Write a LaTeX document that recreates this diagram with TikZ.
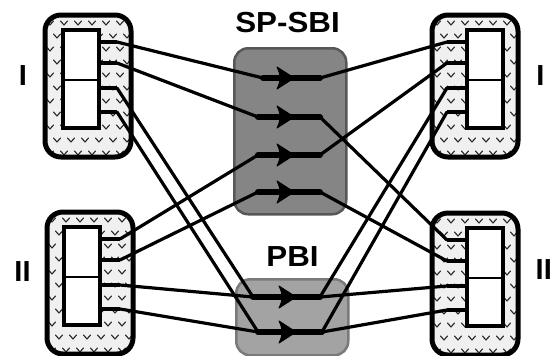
\documentclass[tikz,border=0pt]{standalone}
\usepackage{fontspec}
\setmainfont{Liberation Sans}
\usepackage{graphicx}

\tikzset{
  conn/.style={line width=3.2pt, line cap=round, line join=round},
  seg/.style={line width=6pt, line cap=round},
  headfill/.style={fill=black, draw=black, line width=1pt, line join=round},
  vmark/.style={line width=1.1pt, black!85, line cap=round, line join=round},
  label/.style={font=\fontsize{29}{29}\selectfont\bfseries, inner sep=0pt},
  sbibox/.style={fill=black!48, draw=black!66, line width=2.5pt, rounded corners=14pt},
  pbibox/.style={fill=black!36, draw=black!52, line width=2.5pt, rounded corners=14pt},
}

% #1,#2 outer top-left corner; #3 inner frame left x; #4 stub root x; #5 stub tip x; #6 name prefix
\newcommand\drawunit[6]{%
  \begin{scope}
    \clip[rounded corners=16pt] (#1,#2) rectangle ++(86,142);
    \fill[black!6] (#1,#2) rectangle ++(86,142);
    \foreach \i in {0,...,6} {
      \foreach \j in {0,...,10} {
        \draw[vmark] ({#1+5+\i*14+mod(\j,2)*7},{#2+8+\j*13}) ++(-3.5,-2) -- ++(3.5,4) -- ++(3.5,-4);
      }
    }
  \end{scope}
  \draw[line width=5pt, rounded corners=16pt] (#1,#2) rectangle ++(86,142);
  \fill[white] (#3,#2+15) rectangle ++(36,98);
  \draw[line width=4pt] (#3,#2+15) rectangle ++(36,98);
  \draw[line width=2.5pt] (#3,#2+65) -- ++(36,0);
  \foreach \k/\dy in {1/27,2/48,3/73,4/97} {
    \coordinate (#6\k) at (#5,#2+\dy);
    \draw[line width=4pt] (#4,#2+\dy) -- (#6\k);
  }
}

% arrowhead with concave back, tip at the given coordinate
\newcommand\flowhead[1]{%
  \filldraw[headfill] (#1) -- ++(-17,-11) .. controls ++(2,4) and ++(0,-4) .. ++(3,11)
    .. controls ++(0,4) and ++(2,-4) .. ++(-3,11) -- cycle;
}

\begin{document}
\begin{tikzpicture}[x=1pt, y=-1pt]
  \useasboundingbox (0,0) rectangle (550,356);
  \clip (0,0) rectangle (550,356);

  % interface blocks
  \node[sbibox, minimum width=112pt, minimum height=166pt, anchor=north west] (sbi) at (233,47) {};
  \node[pbibox, minimum width=112pt, minimum height=76pt, anchor=north west] (pbi) at (235,278) {};

  % the four units
  \drawunit{45}{15}{63}{99}{117}{lt}
  \drawunit{47}{212}{64}{100}{120}{lb}
  \drawunit{432}{15}{467}{467}{447}{rt}
  \drawunit{432}{213}{467}{467}{447}{rb}

  % channel points inside the blocks
  \coordinate (r1a) at (263,78);  \coordinate (r1m) at (294,78);  \coordinate (r1b) at (320,78);
  \coordinate (r2a) at (258,117); \coordinate (r2m) at (294,117); \coordinate (r2b) at (320,117);
  \coordinate (r3a) at (258,155); \coordinate (r3m) at (294,155); \coordinate (r3b) at (320,155);
  \coordinate (r4a) at (258,192); \coordinate (r4m) at (294,192); \coordinate (r4b) at (320,192);
  \coordinate (r5a) at (253,297); \coordinate (r5m) at (296,297); \coordinate (r5b) at (320,297);
  \coordinate (r6a) at (258,332); \coordinate (r6m) at (296,332); \coordinate (r6b) at (322,332);

  % connectors
  \draw[conn] (lt1) -- (r1a);  \draw[conn] (r1b) -- (rt1);
  \draw[conn] (lt2) -- (r2a);  \draw[conn] (r2b) -- (rb1);
  \draw[conn] (lb1) -- (r3a);  \draw[conn] (r3b) -- (rt2);
  \draw[conn] (lb2) -- (r4a);  \draw[conn] (r4b) -- (rb2);
  \draw[conn] (lt3) -- (r5a);  \draw[conn] (lb3) -- (r5a);
  \draw[conn] (r5b) -- (rt3);  \draw[conn] (r5b) -- (rb3);
  \draw[conn] (lt4) -- (r6a);  \draw[conn] (lb4) -- (r6a);
  \draw[conn] (r6b) -- (rt4);  \draw[conn] (r6b) -- (rb4);

  % channel segments with arrows
  \foreach \r in {1,...,6} {
    \draw[seg] (r\r a) -- (r\r b);
    \flowhead{r\r m}
  }

  % labels
  \node[label] (tsbi) at (287.5,22.5) {\scalebox{1.08}[1]{SP-SBI}};
  \node[label] (tpbi) at (292.5,257) {\scalebox{1.08}[1]{PBI}};
  \node[label] (l1) at (23,76) {I};
  \node[label] (l2) at (22.5,272) {II};
  \node[label] (r1) at (540.5,76) {I};
  \node[label, anchor=west] (r2) at (535.5,270) {II};
\end{tikzpicture}
\end{document}
